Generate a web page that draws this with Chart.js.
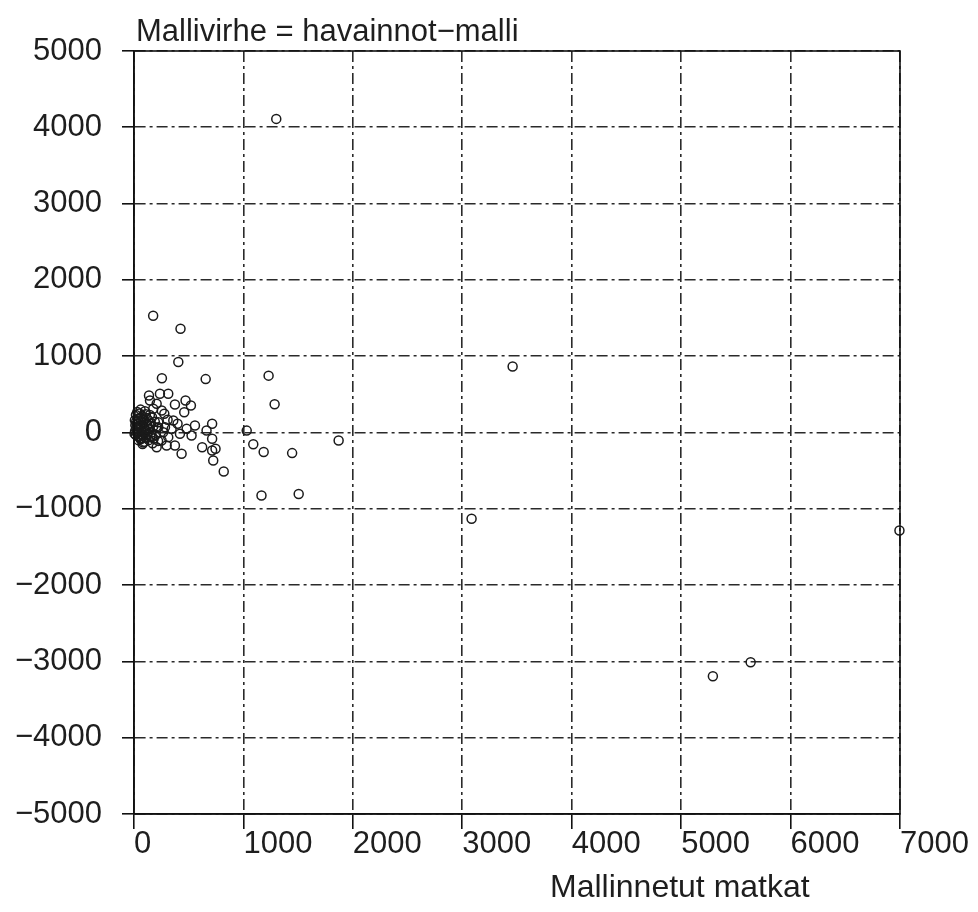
<!DOCTYPE html>
<html lang="fi">

<head>
    <meta charset="UTF-8">
    <title>Mallivirhe</title>
    <script src="https://cdn.jsdelivr.net/npm/chart.js"></script>
    <style>
        html, body { margin: 0; padding: 0; background: #fff; }
        canvas { display: block; }
    </style>
</head>

<body>
    <canvas id="residualChart" width="978" height="912"></canvas>

    <script>
        // Tekstit
        const chartTitle = 'Mallivirhe = havainnot\u2212malli';
        const xAxisTitle = 'Mallinnetut matkat';

        // Akselit
        const xTicks = [0, 1000, 2000, 3000, 4000, 5000, 6000, 7000];
        const yTicks = [-5000, -4000, -3000, -2000, -1000, 0, 1000, 2000, 3000, 4000, 5000];

        // Erilliset havainnot (mallinnetut matkat, mallivirhe)
        const outlierX = [1300, 175, 425, 405, 255, 655, 1230, 1285, 3460, 1870, 3085, 1165, 1505, 6995, 5635, 5290, 820, 1445, 1185, 1090, 1030];
        const outlierY = [4110, 1530, 1360, 925, 710, 700, 745, 370, 865, -105, -1130, -825, -805, -1285, -3010, -3195, -510, -270, -255, -155, 25];

        // Keskikokoiset
        const midX = [137, 146, 237, 313, 374, 471, 520, 459, 207, 277, 307, 398, 557, 714, 344, 481, 420, 526, 663, 714, 623, 714, 745, 724, 435, 374, 298, 207, 252, 313, 267, 222, 222, 283, 359, 253, 176];
        const midY = [485, 419, 507, 507, 367, 419, 354, 266, 376, 245, 166, 114, 92, 114, 48, 48, -17, -39, 26, -83, -193, -236, -214, -367, -279, -170, -170, -193, -105, -61, 4, 135, 69, 69, 157, 288, 311];

        // Tiheä joukko origon lähellä
        const clusterX = [10, 15, 20, 25, 30, 35, 40, 45, 50, 55, 60, 65, 70, 75, 80, 85, 90, 95, 100, 105, 110, 115, 120, 125, 130, 135, 140, 145, 150, 155, 160, 165, 170, 175, 180, 190, 200, 210, 220, 30, 60, 85, 40, 20, 5, 12, 48, 68, 92, 108, 128, 58, 78, 18, 35, 52, 88, 115, 145, 165, 8, 42, 72];
        const clusterY = [20, -30, 60, 110, -10, 180, 40, -60, 250, 90, -90, 150, 10, 210, -40, 130, 70, -120, 280, 30, -70, 190, 100, -20, 160, -100, 50, 230, -50, 120, 0, 200, -140, 80, -80, 140, -30, 60, -110, 270, 300, -130, -100, 140, -15, 95, 5, -25, 15, 240, 45, 190, -150, 230, 75, -45, 170, 15, 85, -60, 160, 120, -75];

        const allX = outlierX.concat(midX, clusterX);
        const allY = outlierY.concat(midY, clusterY);
        const points = allX.map((x, i) => ({ x: x, y: allY[i] }));

        const fontFamily = '"Liberation Sans", Arial, Helvetica, sans-serif';
        const ink = '#1e1e1e';

        // Otsikot ja kehys
        const decorPlugin = {
            id: 'decor',
            afterDraw(chart) {
                const ctx = chart.ctx;
                const area = chart.chartArea;
                ctx.save();
                ctx.strokeStyle = '#111';
                ctx.lineWidth = 1.6;
                ctx.setLineDash([]);
                ctx.strokeRect(area.left, area.top, area.right - area.left, area.bottom - area.top);

                ctx.fillStyle = ink;
                ctx.textBaseline = 'alphabetic';
                ctx.textAlign = 'left';
                ctx.font = '31px ' + fontFamily;
                ctx.fillText(chartTitle, 136, 41);
                ctx.font = '32px ' + fontFamily;
                ctx.fillText(xAxisTitle, 550, 897);
                ctx.restore();
            }
        };

        new Chart(document.getElementById('residualChart'), {
            type: 'scatter',
            data: {
                datasets: [{
                    label: 'Mallivirhe',
                    data: points,
                    pointStyle: 'circle',
                    pointRadius: 4.5,
                    pointBorderWidth: 1.5,
                    borderColor: '#1a1a1a',
                    backgroundColor: 'rgba(0,0,0,0)',
                    clip: 10
                }]
            },
            options: {
                responsive: false,
                animation: false,
                devicePixelRatio: 1,
                layout: { padding: { top: 51, right: 78, left: 0, bottom: 0 } },
                plugins: {
                    legend: { display: false },
                    tooltip: { enabled: false }
                },
                scales: {
                    x: {
                        type: 'linear',
                        min: xTicks[0],
                        max: xTicks[xTicks.length - 1],
                        afterBuildTicks(scale) { scale.ticks = xTicks.map(v => ({ value: v })); },
                        afterFit(scale) { scale.height = 98; },
                        grid: {
                            color: '#2a2a2a',
                            lineWidth: 1.6,
                            tickLength: 15,
                            tickColor: '#111',
                            tickWidth: 1.6,
                            tickBorderDash: []
                        },
                        border: { display: true, color: '#111', width: 1.6, dash: [11, 4, 3, 4] },
                        ticks: {
                            align: 'start',
                            padding: 0,
                            color: ink,
                            font: { family: fontFamily, size: 31, lineHeight: 1 },
                            maxRotation: 0,
                            autoSkip: false,
                            callback: v => String(v)
                        }
                    },
                    y: {
                        type: 'linear',
                        min: yTicks[0],
                        max: yTicks[yTicks.length - 1],
                        afterBuildTicks(scale) { scale.ticks = yTicks.map(v => ({ value: v })); },
                        afterFit(scale) { scale.width = 134; },
                        grid: {
                            color: '#2a2a2a',
                            lineWidth: 1.6,
                            tickLength: 12,
                            tickColor: '#111',
                            tickWidth: 1.6,
                            tickBorderDash: []
                        },
                        border: { display: true, color: '#111', width: 1.6, dash: [11, 4, 3, 4] },
                        ticks: {
                            padding: 20,
                            color: ink,
                            font: { family: fontFamily, size: 31, lineHeight: 1 },
                            autoSkip: false,
                            callback: v => String(v).replace('-', '\u2212')
                        }
                    }
                }
            },
            plugins: [decorPlugin]
        });
    </script>
</body>

</html>
